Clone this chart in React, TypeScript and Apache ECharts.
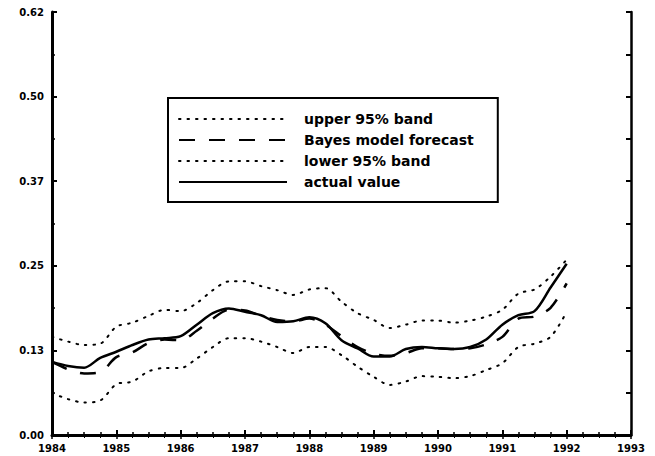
import React, { useEffect, useRef } from "react";
import * as echarts from "echarts";

const quarters = [
  1984, 1984.25, 1984.5, 1984.75, 1985, 1985.25, 1985.5, 1985.75,
  1986, 1986.25, 1986.5, 1986.75, 1987, 1987.25, 1987.5, 1987.75,
  1988, 1988.25, 1988.5, 1988.75, 1989, 1989.25, 1989.5, 1989.75,
  1990, 1990.25, 1990.5, 1990.75, 1991, 1991.25, 1991.5, 1991.75, 1992,
];

const upperBand = [
  0.145, 0.138, 0.133, 0.135, 0.16, 0.166, 0.176, 0.185,
  0.183, 0.195, 0.214, 0.227, 0.227, 0.22, 0.214, 0.207,
  0.215, 0.217, 0.197, 0.18, 0.17, 0.158, 0.163, 0.169,
  0.169, 0.166, 0.169, 0.175, 0.185, 0.209, 0.215, 0.234, 0.259,
];

const forecast = [
  0.108, 0.097, 0.091, 0.093, 0.115, 0.122, 0.136, 0.141,
  0.14, 0.154, 0.172, 0.185, 0.184, 0.176, 0.17, 0.168,
  0.172, 0.163, 0.146, 0.13, 0.12, 0.117, 0.121, 0.128,
  0.128, 0.127, 0.128, 0.134, 0.145, 0.172, 0.175, 0.188, 0.224,
];

const lowerBand = [
  0.062, 0.053, 0.048, 0.051, 0.075, 0.079, 0.094, 0.099,
  0.099, 0.113, 0.13, 0.143, 0.143, 0.138, 0.13, 0.121,
  0.13, 0.13, 0.118, 0.101, 0.086, 0.074, 0.079, 0.087,
  0.086, 0.084, 0.087, 0.096, 0.106, 0.13, 0.135, 0.145, 0.182,
];

const actual = [
  0.108, 0.102, 0.0995, 0.114, 0.123, 0.133, 0.141, 0.143,
  0.146, 0.163, 0.18, 0.187, 0.182, 0.177, 0.167, 0.168,
  0.174, 0.165, 0.14, 0.128, 0.116, 0.116, 0.127, 0.13,
  0.128, 0.127, 0.13, 0.141, 0.163, 0.177, 0.183, 0.218, 0.253,
];

const yTickLabels = ["0.00", "0.13", "0.25", "0.37", "0.50", "0.62"];
const seriesNames = ["upper 95% band", "Bayes model forecast", "lower 95% band", "actual value"];

const FONT = "DejaVu Sans";

export default function App() {
  const ref = useRef<HTMLDivElement>(null);
  useEffect(() => {
    document.body.style.margin = "0";
    const chart = echarts.init(ref.current!, null, { renderer: "svg" });
    const pair = (ys: number[]) => quarters.map((x, i) => [x, ys[i]]);
    const labelStyle = { color: "#000", fontFamily: FONT, fontWeight: "bold" as const, fontSize: 10 };
    chart.setOption({
      animation: false,
      backgroundColor: "#fff",
      grid: { left: 52, top: 12, right: 24, bottom: 21, containLabel: false },
      legend: {
        orient: "vertical",
        left: 168,
        top: 98,
        backgroundColor: "#fff",
        borderColor: "#000",
        borderWidth: 2,
        borderRadius: 0,
        padding: [14, 24, 13, 10],
        itemWidth: 108,
        itemHeight: 10,
        itemGap: 7,
        itemStyle: { opacity: 0 },
        textStyle: { color: "#000", fontFamily: FONT, fontWeight: "bold", fontSize: 14, padding: [0, 0, 0, 12] },
        data: seriesNames,
      },
      xAxis: [
        {
          type: "value",
          min: 1984,
          max: 1993,
          interval: 1,
          axisLine: { lineStyle: { color: "#000", width: 3 } },
          axisTick: { inside: true, length: 5, lineStyle: { color: "#000", width: 2 } },
          minorTick: { show: true, splitNumber: 4, length: 3, lineStyle: { color: "#000", width: 1.5 } },
          axisLabel: { ...labelStyle, margin: 8, formatter: (v: number) => String(v) },
          splitLine: { show: false },
        },
        {
          type: "value",
          position: "top",
          min: 1984,
          max: 1993,
          interval: 1,
          axisLine: { lineStyle: { color: "#000", width: 2 } },
          axisTick: { inside: true, length: 4, lineStyle: { color: "#000", width: 1.5 } },
          minorTick: { show: true, splitNumber: 4, length: 3, lineStyle: { color: "#000", width: 1 } },
          axisLabel: { show: false },
          splitLine: { show: false },
        },
      ],
      yAxis: [
        {
          type: "value",
          min: 0,
          max: 0.625,
          interval: 0.125,
          axisLine: { show: true, lineStyle: { color: "#000", width: 3 } },
          axisTick: { show: true, inside: true, length: 5, lineStyle: { color: "#000", width: 2 } },
          minorTick: { show: true, splitNumber: 2, length: 3, lineStyle: { color: "#000", width: 1.5 } },
          axisLabel: {
            ...labelStyle,
            margin: 8,
            formatter: (v: number) => yTickLabels[Math.round(v / 0.125)] ?? "",
          },
          splitLine: { show: false },
        },
        {
          type: "value",
          position: "right",
          min: 0,
          max: 0.625,
          interval: 0.125,
          axisLine: { show: true, lineStyle: { color: "#000", width: 2.5 } },
          axisTick: { show: true, inside: true, length: 5, lineStyle: { color: "#000", width: 2 } },
          minorTick: { show: true, splitNumber: 2, length: 5, lineStyle: { color: "#000", width: 2 } },
          axisLabel: { show: false },
          splitLine: { show: false },
        },
      ],
      series: [
        {
          name: seriesNames[0],
          type: "line",
          data: pair(upperBand),
          symbol: "none",
          smooth: 0.3,
          lineStyle: { color: "#000", width: 2, type: [1.5, 7], cap: "round" },
          itemStyle: { color: "#000" },
        },
        {
          name: seriesNames[1],
          type: "line",
          data: pair(forecast),
          symbol: "none",
          smooth: 0.3,
          lineStyle: { color: "#000", width: 2.5, type: [16, 14] },
          itemStyle: { color: "#000" },
        },
        {
          name: seriesNames[2],
          type: "line",
          data: pair(lowerBand),
          symbol: "none",
          smooth: 0.3,
          lineStyle: { color: "#000", width: 2, type: [1.5, 7], cap: "round" },
          itemStyle: { color: "#000" },
        },
        {
          name: seriesNames[3],
          type: "line",
          data: pair(actual),
          symbol: "none",
          smooth: 0.3,
          lineStyle: { color: "#000", width: 2.5 },
          itemStyle: { color: "#000" },
        },
      ],
    });
    return () => chart.dispose();
  }, []);
  return <div ref={ref} style={{ width: 655, height: 456 }} />;
}
